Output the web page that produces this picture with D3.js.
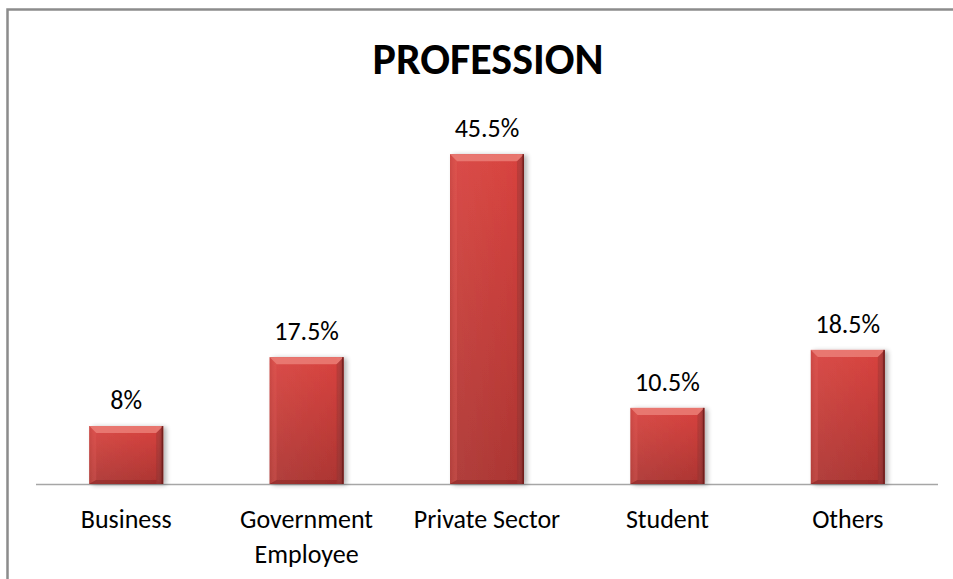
<!DOCTYPE html>
<html><head><meta charset="utf-8">
<script src="https://cdn.jsdelivr.net/npm/d3@7"></script>
<style>html,body{margin:0;padding:0;background:#fff;}svg{display:block;}</style>
</head><body>
<script>
const categories = ["Business", "Government Employee", "Private Sector", "Student", "Others"];
const values = [8, 17.5, 45.5, 10.5, 18.5];
const valueLabels = ["8%", "17.5%", "45.5%", "10.5%", "18.5%"];
const title = "PROFESSION";

const W = 953, H = 579;
const svg = d3.select("body").append("svg").attr("width", W).attr("height", H);
const font = "Carlito, Lato, 'Open Sans', sans-serif";

svg.append("rect").attr("width", W).attr("height", H).attr("fill", "#fff");
// frame
svg.append("path").attr("d", `M7.5,${H} L7.5,9.5 L${W},9.5`).attr("fill", "none").attr("stroke", "#8c8c8c").attr("stroke-width", 2.5);

const x = d3.scaleBand().domain(categories).range([36, 938]).paddingInner(0.59).paddingOuter(0.295);
const y = d3.scaleLinear().domain([0, 50]).range([484, 121.5]);

const defs = svg.append("defs");
const g1 = defs.append("linearGradient").attr("id", "body").attr("x1", 0).attr("y1", 0).attr("x2", 0).attr("y2", 1);
g1.append("stop").attr("offset", "0%").attr("stop-color", "#d8433f");
g1.append("stop").attr("offset", "100%").attr("stop-color", "#ac3532");
const g2 = defs.append("linearGradient").attr("id", "side").attr("x1", 0).attr("y1", 0).attr("x2", 1).attr("y2", 0);
g2.append("stop").attr("offset", "0%").attr("stop-color", "#000").attr("stop-opacity", 0.1);
g2.append("stop").attr("offset", "8%").attr("stop-color", "#fff").attr("stop-opacity", 0.05);
g2.append("stop").attr("offset", "90%").attr("stop-color", "#fff").attr("stop-opacity", 0);
g2.append("stop").attr("offset", "100%").attr("stop-color", "#000").attr("stop-opacity", 0.3);
const f = defs.append("filter").attr("id", "sh").attr("x", "-20%").attr("y", "-10%").attr("width", "150%").attr("height", "130%");
f.append("feGaussianBlur").attr("in", "SourceAlpha").attr("stdDeviation", 2.5).attr("result", "b");
f.append("feOffset").attr("in", "b").attr("dx", 3).attr("dy", 1).attr("result", "o");
f.append("feComponentTransfer").attr("in", "o").attr("result", "o2").append("feFuncA").attr("type", "linear").attr("slope", 0.3);
const m = f.append("feMerge"); m.append("feMergeNode").attr("in", "o2"); m.append("feMergeNode").attr("in", "SourceGraphic");

// axis line
svg.append("line").attr("x1", 36).attr("x2", 938).attr("y1", 484.5).attr("y2", 484.5).attr("stroke", "#a6a6a6").attr("stroke-width", 1.5);

const bars = svg.selectAll("g.bar").data(categories).join("g").attr("class", "bar");
bars.each(function(c, i) {
  const g = d3.select(this);
  const x0 = x(c), bw = x.bandwidth(), yt = y(values[i]), yb = y(0);
  const inner = g.append("g").attr("filter", "url(#sh)");
  inner.append("rect").attr("x", x0).attr("y", yt).attr("width", bw).attr("height", yb - yt).attr("fill", "url(#body)");
  inner.append("rect").attr("x", x0).attr("y", yt).attr("width", bw).attr("height", yb - yt).attr("fill", "url(#side)");
  const bv = 7;
  inner.append("path").attr("d", `M${x0},${yt} L${x0 + bw},${yt} L${x0 + bw - bv},${yt + bv} L${x0 + bv},${yt + bv} Z`).attr("fill", "#f08a82").attr("opacity", 0.7);
  inner.append("path").attr("d", `M${x0},${yt} L${x0 + bv},${yt + bv} L${x0 + bv},${yb - 4} L${x0},${yb} Z`).attr("fill", "#e0605a").attr("opacity", 0.3);
  inner.append("path").attr("d", `M${x0 + bw},${yt} L${x0 + bw - bv},${yt + bv} L${x0 + bw - bv},${yb - 4} L${x0 + bw},${yb} Z`).attr("fill", "#7a1f1d").attr("opacity", 0.3);
  inner.append("path").attr("d", `M${x0},${yb} L${x0 + bv},${yb - 4} L${x0 + bw - bv},${yb - 4} L${x0 + bw},${yb} Z`).attr("fill", "#7a1f1d").attr("opacity", 0.4);
  g.append("rect").attr("x", x0 + bw - 1.5).attr("y", yt).attr("width", 1.5).attr("height", yb - yt).attr("fill", "#6e1c1a").attr("opacity", 0.8);
  g.append("text").attr("x", x0 + bw / 2).attr("y", yt - 17).attr("text-anchor", "middle")
    .attr("font-family", font).attr("font-size", 26).attr("fill", "#000").text(valueLabels[i]);
});

svg.selectAll("text.cat").data(categories).join("text").attr("class", "cat")
  .attr("x", d => x(d) + x.bandwidth() / 2).attr("y", 528).attr("text-anchor", "middle")
  .attr("font-family", font).attr("font-size", 26).attr("fill", "#000")
  .each(function(d) {
    const t = d3.select(this);
    const words = d === "Government Employee" ? ["Government", "Employee"] : [d];
    words.forEach((w, k) => t.append("tspan").attr("x", x(d) + x.bandwidth() / 2).attr("dy", k ? 35 : 0).text(w));
  });

svg.append("text").attr("x", 488).attr("y", 74).attr("text-anchor", "middle")
  .attr("font-family", font).attr("font-weight", "bold").attr("font-size", 44).attr("fill", "#000").text(title);
</script>
</body></html>
